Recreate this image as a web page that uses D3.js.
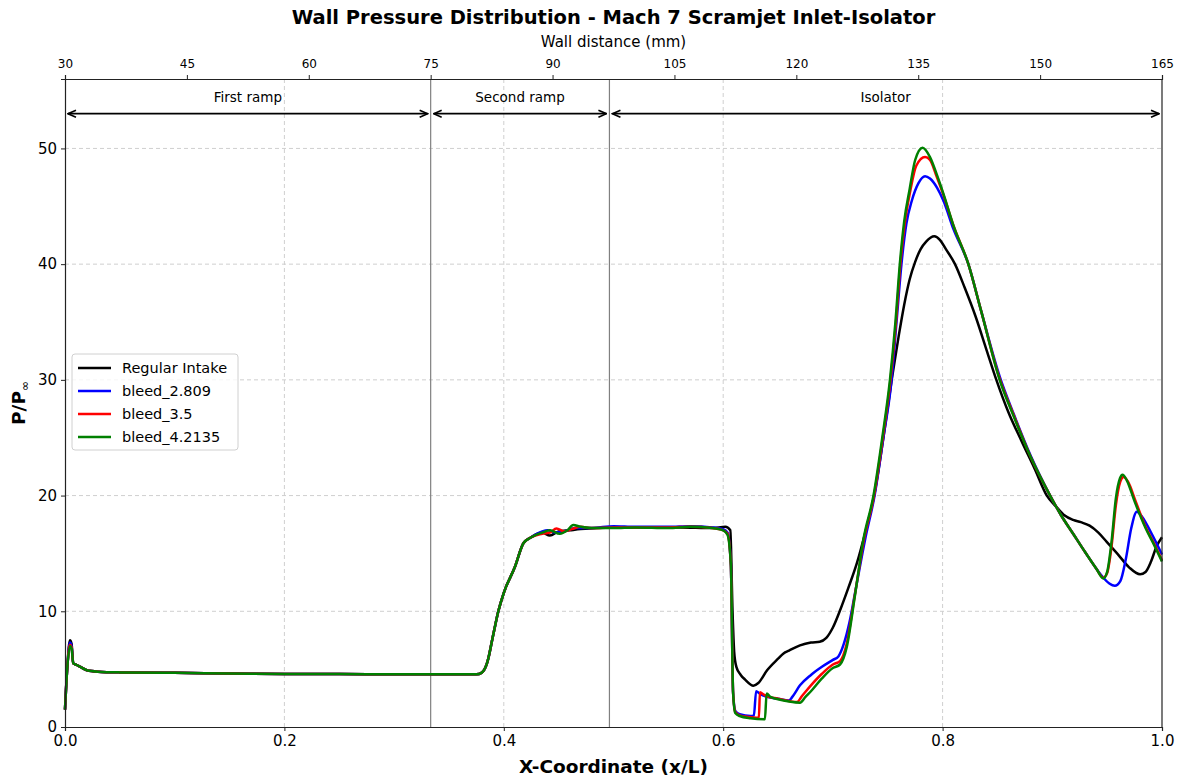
<!DOCTYPE html>
<html lang="en">
<head>
<meta charset="UTF-8">
<title>wall_pressure</title>
<script src="https://cdn.jsdelivr.net/npm/d3@7"></script>
<style>
  body { margin: 0; background: #fff; }
  svg { font-family: "DejaVu Sans", sans-serif; }
</style>
</head>
<body>
<svg width="1182" height="780" id="mainsvg"></svg>
<script>
// series data [x/L, P/Pinf]
const regularIntake = [[0,1.5],[0.002,5],[0.0045,7.5],[0.006,7.2],[0.0075,5.5],[0.01,5.4],[0.014,5.2],[0.02,4.9],[0.03,4.78],[0.05,4.72],[0.1,4.68],[0.15,4.63],[0.2,4.58],[0.25,4.57],[0.3,4.56],[0.35,4.55],[0.375,4.55],[0.38,4.7],[0.385,5.6],[0.39,7.8],[0.395,10],[0.40,11.6],[0.41,13.8],[0.418,15.9],[0.425,16.4],[0.435,16.8],[0.442,16.55],[0.45,16.9],[0.46,17.0],[0.47,17.1],[0.5,17.25],[0.53,17.25],[0.56,17.25],[0.59,17.2],[0.602,17.3],[0.6065,17.0],[0.6085,10],[0.61,6.5],[0.612,5.2],[0.616,4.5],[0.62,4.1],[0.6275,3.57],[0.632,3.8],[0.64,4.9],[0.65,5.9],[0.655,6.36],[0.66,6.6],[0.67,7.05],[0.68,7.3],[0.688,7.37],[0.694,7.7],[0.70,8.6],[0.707,10.2],[0.714,12.0],[0.722,14.2],[0.73,17.0],[0.738,20.2],[0.746,25],[0.7536,30],[0.76,33.8],[0.765,36.5],[0.77,38.7],[0.775,40.2],[0.78,41.3],[0.785,41.95],[0.7925,42.4],[0.7975,42.1],[0.803,41.3],[0.8113,40],[0.82,38],[0.83,35.5],[0.84,32.6],[0.849,30],[0.86,27.2],[0.872,24.7],[0.884,22.3],[0.895,20],[0.904,19.0],[0.911,18.3],[0.919,17.9],[0.926,17.7],[0.934,17.4],[0.942,16.8],[0.9496,16.0],[0.96,14.9],[0.97,13.8],[0.98,13.2],[0.985,13.4],[0.99,14.3],[0.995,15.6],[1.0,16.4]];

const bleed2809 = [[0,1.5],[0.002,5],[0.0045,7.3],[0.006,7.0],[0.0075,5.5],[0.01,5.4],[0.014,5.2],[0.02,4.9],[0.03,4.78],[0.05,4.72],[0.1,4.68],[0.15,4.63],[0.2,4.58],[0.25,4.57],[0.3,4.56],[0.35,4.55],[0.375,4.55],[0.38,4.7],[0.385,5.6],[0.39,7.8],[0.395,10],[0.40,11.6],[0.41,13.8],[0.418,15.9],[0.425,16.4],[0.435,16.9],[0.44,17.0],[0.447,16.8],[0.455,16.9],[0.465,17.2],[0.48,17.2],[0.5,17.35],[0.52,17.3],[0.55,17.3],[0.57,17.35],[0.59,17.25],[0.6,17.1],[0.604,16.8],[0.607,14],[0.609,3],[0.611,1.4],[0.615,1.1],[0.625,0.95],[0.628,1.0],[0.63,3.1],[0.633,2.9],[0.64,2.6],[0.65,2.45],[0.66,2.3],[0.663,2.6],[0.67,3.6],[0.68,4.5],[0.69,5.2],[0.70,5.8],[0.705,6.1],[0.71,7.2],[0.715,9],[0.72,11.5],[0.73,16.5],[0.738,20],[0.746,25],[0.7535,30],[0.758,35],[0.7625,40],[0.767,43.5],[0.772,45.5],[0.778,47],[0.784,47.6],[0.7885,47.4],[0.795,46.6],[0.8007,45.5],[0.81,43],[0.8235,40],[0.835,36],[0.852,30.3],[0.865,27],[0.88,23.5],[0.898,20],[0.908,18.3],[0.919,16.7],[0.93,15.1],[0.94,13.7],[0.9465,12.9],[0.952,12.4],[0.957,12.2],[0.962,12.6],[0.967,14.5],[0.972,17.2],[0.977,18.6],[0.98,18.4],[0.99,16.8],[1.0,14.9]];

const bleed35 = [[0,1.5],[0.002,5],[0.0045,7.1],[0.006,6.9],[0.0075,5.5],[0.01,5.4],[0.014,5.2],[0.02,4.9],[0.03,4.78],[0.05,4.72],[0.1,4.68],[0.15,4.63],[0.2,4.58],[0.25,4.57],[0.3,4.56],[0.35,4.55],[0.375,4.55],[0.38,4.7],[0.385,5.6],[0.39,7.8],[0.395,10],[0.40,11.6],[0.41,13.8],[0.418,15.9],[0.425,16.4],[0.435,16.7],[0.442,16.8],[0.448,17.16],[0.455,16.9],[0.462,17.1],[0.47,17.3],[0.48,17.2],[0.5,17.25],[0.52,17.25],[0.55,17.25],[0.57,17.3],[0.59,17.2],[0.6,17.0],[0.604,16.7],[0.607,14],[0.609,3],[0.611,1.3],[0.615,1.0],[0.62,0.9],[0.63,0.8],[0.6325,0.78],[0.6335,3.0],[0.637,2.8],[0.64,2.65],[0.65,2.45],[0.66,2.25],[0.667,2.15],[0.672,2.7],[0.68,3.6],[0.69,4.6],[0.70,5.4],[0.7065,5.7],[0.7126,7.2],[0.72,11.4],[0.7282,16.15],[0.7375,20],[0.7455,25],[0.7525,30],[0.7575,35],[0.7615,40],[0.7655,43.5],[0.7705,46.3],[0.776,48.5],[0.784,49.25],[0.7885,49.0],[0.7945,47.6],[0.8007,46.0],[0.81,43.3],[0.8235,40],[0.835,36],[0.852,30.1],[0.865,26.9],[0.88,23.4],[0.898,20],[0.908,18.3],[0.919,16.7],[0.93,15.1],[0.94,13.7],[0.9465,12.9],[0.95,13.3],[0.954,15.6],[0.958,19.2],[0.962,21.2],[0.965,21.6],[0.969,21.2],[0.976,19.5],[0.985,17.3],[0.993,15.8],[1.0,14.4]];

const bleed42135 = [[0,1.5],[0.002,5],[0.0045,7.0],[0.006,6.8],[0.0075,5.5],[0.01,5.4],[0.014,5.2],[0.02,4.9],[0.03,4.78],[0.05,4.72],[0.1,4.68],[0.15,4.63],[0.2,4.58],[0.25,4.57],[0.3,4.56],[0.35,4.55],[0.375,4.55],[0.38,4.7],[0.385,5.6],[0.39,7.8],[0.395,10],[0.40,11.6],[0.41,13.8],[0.418,15.9],[0.425,16.4],[0.435,16.8],[0.442,17.0],[0.451,16.7],[0.458,17.0],[0.4634,17.45],[0.47,17.3],[0.48,17.2],[0.5,17.2],[0.52,17.25],[0.55,17.2],[0.57,17.3],[0.59,17.2],[0.6,17.0],[0.604,16.6],[0.607,14],[0.609,3],[0.611,1.2],[0.615,0.95],[0.625,0.75],[0.638,0.66],[0.6396,2.9],[0.643,2.6],[0.65,2.4],[0.66,2.2],[0.67,2.1],[0.675,2.6],[0.681,3.2],[0.69,4.2],[0.70,5.1],[0.7065,5.4],[0.7126,6.9],[0.72,11.3],[0.7277,16.15],[0.737,20],[0.745,25],[0.752,30],[0.757,35],[0.761,40],[0.765,43.7],[0.77,46.5],[0.775,49],[0.7818,50.06],[0.7885,49.25],[0.7945,47.8],[0.8007,46.1],[0.81,43.3],[0.8235,40],[0.835,36],[0.852,30],[0.865,26.8],[0.88,23.4],[0.898,20],[0.908,18.3],[0.919,16.7],[0.93,15.1],[0.94,13.7],[0.9465,12.84],[0.95,13.4],[0.954,16],[0.958,19.8],[0.9617,21.5],[0.964,21.8],[0.968,21.3],[0.975,19.5],[0.985,17.2],[0.993,15.7],[1.0,14.3]];

const seriesNames = ['Regular Intake', 'bleed_2.809', 'bleed_3.5', 'bleed_4.2135'];
const seriesColors = ['#000000', '#0000ff', '#ff0000', '#008000'];
const seriesData = [regularIntake, bleed2809, bleed35, bleed42135];

// regions along the wall, in mm
const regionNames = ['First ramp', 'Second ramp', 'Isolator'];
const regionBounds = [30, 75, 97, 165];

const xTicks = [0, 0.2, 0.4, 0.6, 0.8, 1.0];
const yTicks = [0, 10, 20, 30, 40, 50];
const mmTicks = [30, 45, 60, 75, 90, 105, 120, 135, 150, 165];

const svg = d3.select('svg');
const width = +svg.attr('width');
const height = +svg.attr('height');
const margin = {top: 79, right: 20, bottom: 53, left: 65};
const innerWidth = width - margin.left - margin.right;
const innerHeight = height - margin.top - margin.bottom;
const g = svg.append('g').attr('transform', `translate(${margin.left}, ${margin.top})`);

const xScale = d3.scaleLinear().domain([0, 1]).range([0, innerWidth]);
const yScale = d3.scaleLinear().domain([0, 56]).range([innerHeight, 0]);
const mmScale = d3.scaleLinear().domain([30, 165]).range([0, innerWidth]);

// grid
g.append('g').selectAll('line').data(xTicks.slice(1, -1)).join('line')
  .attr('x1', d => xScale(d)).attr('x2', d => xScale(d))
  .attr('y1', 0).attr('y2', innerHeight)
  .attr('stroke', '#cfcfcf').attr('stroke-dasharray', '4,3').attr('stroke-width', 1);
g.append('g').selectAll('line').data(yTicks.slice(1)).join('line')
  .attr('x1', 0).attr('x2', innerWidth)
  .attr('y1', d => yScale(d)).attr('y2', d => yScale(d))
  .attr('stroke', '#cfcfcf').attr('stroke-dasharray', '4,3').attr('stroke-width', 1);

// region separators
g.append('g').selectAll('line').data(regionBounds.slice(1, -1)).join('line')
  .attr('x1', d => mmScale(d)).attr('x2', d => mmScale(d))
  .attr('y1', 0).attr('y2', innerHeight)
  .attr('stroke', '#808080').attr('stroke-width', 1.2);

// arrow heads
const defs = svg.append('defs');
['start', 'end'].forEach(k => {
  defs.append('marker').attr('id', 'arr-' + k)
    .attr('viewBox', '0 0 10 10').attr('refX', k === 'end' ? 9 : 1).attr('refY', 5)
    .attr('markerWidth', 10).attr('markerHeight', 10).attr('markerUnits', 'userSpaceOnUse')
    .attr('orient', 'auto')
    .append('path')
    .attr('d', k === 'end' ? 'M1,1.5 L9,5 L1,8.5' : 'M9,1.5 L1,5 L9,8.5')
    .attr('fill', 'none').attr('stroke', '#000').attr('stroke-width', 1.6);
});

const regions = regionNames.map((name, i) => ({name, a: regionBounds[i], b: regionBounds[i + 1]}));
g.append('g').selectAll('line').data(regions).join('line')
  .attr('x1', d => mmScale(d.a) + 3).attr('x2', d => mmScale(d.b) - 3)
  .attr('y1', yScale(53)).attr('y2', yScale(53))
  .attr('stroke', '#000').attr('stroke-width', 1.8)
  .attr('marker-start', 'url(#arr-start)').attr('marker-end', 'url(#arr-end)');
g.append('g').selectAll('text').data(regions).join('text')
  .attr('x', d => (mmScale(d.a) + mmScale(d.b)) / 2)
  .attr('y', yScale(55) + 11)
  .attr('text-anchor', 'middle').attr('font-size', '13.5px').attr('fill', '#000')
  .text(d => d.name);

// lines
const line = d3.line().x(d => xScale(d[0])).y(d => yScale(d[1])).curve(d3.curveMonotoneX);
g.append('g').selectAll('path').data(seriesData).join('path')
  .attr('d', line)
  .attr('fill', 'none')
  .attr('stroke', (d, i) => seriesColors[i])
  .attr('stroke-width', 2.5)
  .attr('stroke-linejoin', 'round');

// axes
const xAxis = d3.axisBottom(xScale).tickValues(xTicks).tickFormat(d3.format('.1f')).tickSize(4).tickPadding(4);
const yAxis = d3.axisLeft(yScale).tickValues(yTicks).tickSize(4).tickPadding(4);
const topAxis = d3.axisTop(mmScale).tickValues(mmTicks).tickSize(4).tickPadding(7);

const xAxisGroup = g.append('g').attr('transform', `translate(0, ${innerHeight})`).call(xAxis);
const yAxisGroup = g.append('g').call(yAxis);
const topAxisGroup = g.append('g').call(topAxis);
g.append('line').attr('x1', innerWidth).attr('x2', innerWidth).attr('y1', 0).attr('y2', innerHeight)
  .attr('stroke', '#222').attr('stroke-width', 1.2);

[xAxisGroup, yAxisGroup].forEach(a => a.selectAll('.tick text').attr('font-size', '15px').attr('fill', '#000'));
topAxisGroup.selectAll('.tick text').attr('font-size', '12px').attr('fill', '#000');
[xAxisGroup, yAxisGroup, topAxisGroup].forEach(a => {
  a.select('.domain').attr('stroke', '#222').attr('stroke-width', 1.2);
  a.selectAll('.tick line').attr('stroke', '#222');
  a.attr('font-family', '"DejaVu Sans", sans-serif');
});

// titles
svg.append('text').attr('x', margin.left + innerWidth / 2).attr('y', 24)
  .attr('text-anchor', 'middle').attr('font-size', '19.5px').attr('font-weight', 'bold')
  .text('Wall Pressure Distribution - Mach 7 Scramjet Inlet-Isolator');
svg.append('text').attr('x', margin.left + innerWidth / 2).attr('y', 47)
  .attr('text-anchor', 'middle').attr('font-size', '15px')
  .text('Wall distance (mm)');
svg.append('text').attr('x', margin.left + innerWidth / 2).attr('y', 773)
  .attr('text-anchor', 'middle').attr('font-size', '18.5px').attr('font-weight', 'bold')
  .text('X-Coordinate (x/L)');
const yLabel = svg.append('text')
  .attr('transform', `translate(25, ${margin.top + innerHeight / 2}) rotate(-90)`)
  .attr('text-anchor', 'middle').attr('font-size', '18.5px').attr('font-weight', 'bold');
yLabel.append('tspan').text('P/P');
yLabel.append('tspan').attr('font-size', '12px').attr('font-weight', 'normal').attr('dy', 4).text('∞');

// legend
const legend = svg.append('g').attr('transform', 'translate(72, 354)');
legend.append('rect').attr('width', 166).attr('height', 96).attr('rx', 3)
  .attr('fill', '#fff').attr('fill-opacity', 0.8).attr('stroke', '#d0d0d0');
const rows = legend.selectAll('g').data(seriesNames).join('g')
  .attr('transform', (d, i) => `translate(0, ${14 + i * 23})`);
rows.append('line').attr('x1', 6).attr('x2', 39).attr('y1', 0).attr('y2', 0)
  .attr('stroke', (d, i) => seriesColors[i]).attr('stroke-width', 2.5);
rows.append('text').attr('x', 50).attr('y', 5).attr('font-size', '14.5px').text(d => d);
</script>
</body>
</html>
